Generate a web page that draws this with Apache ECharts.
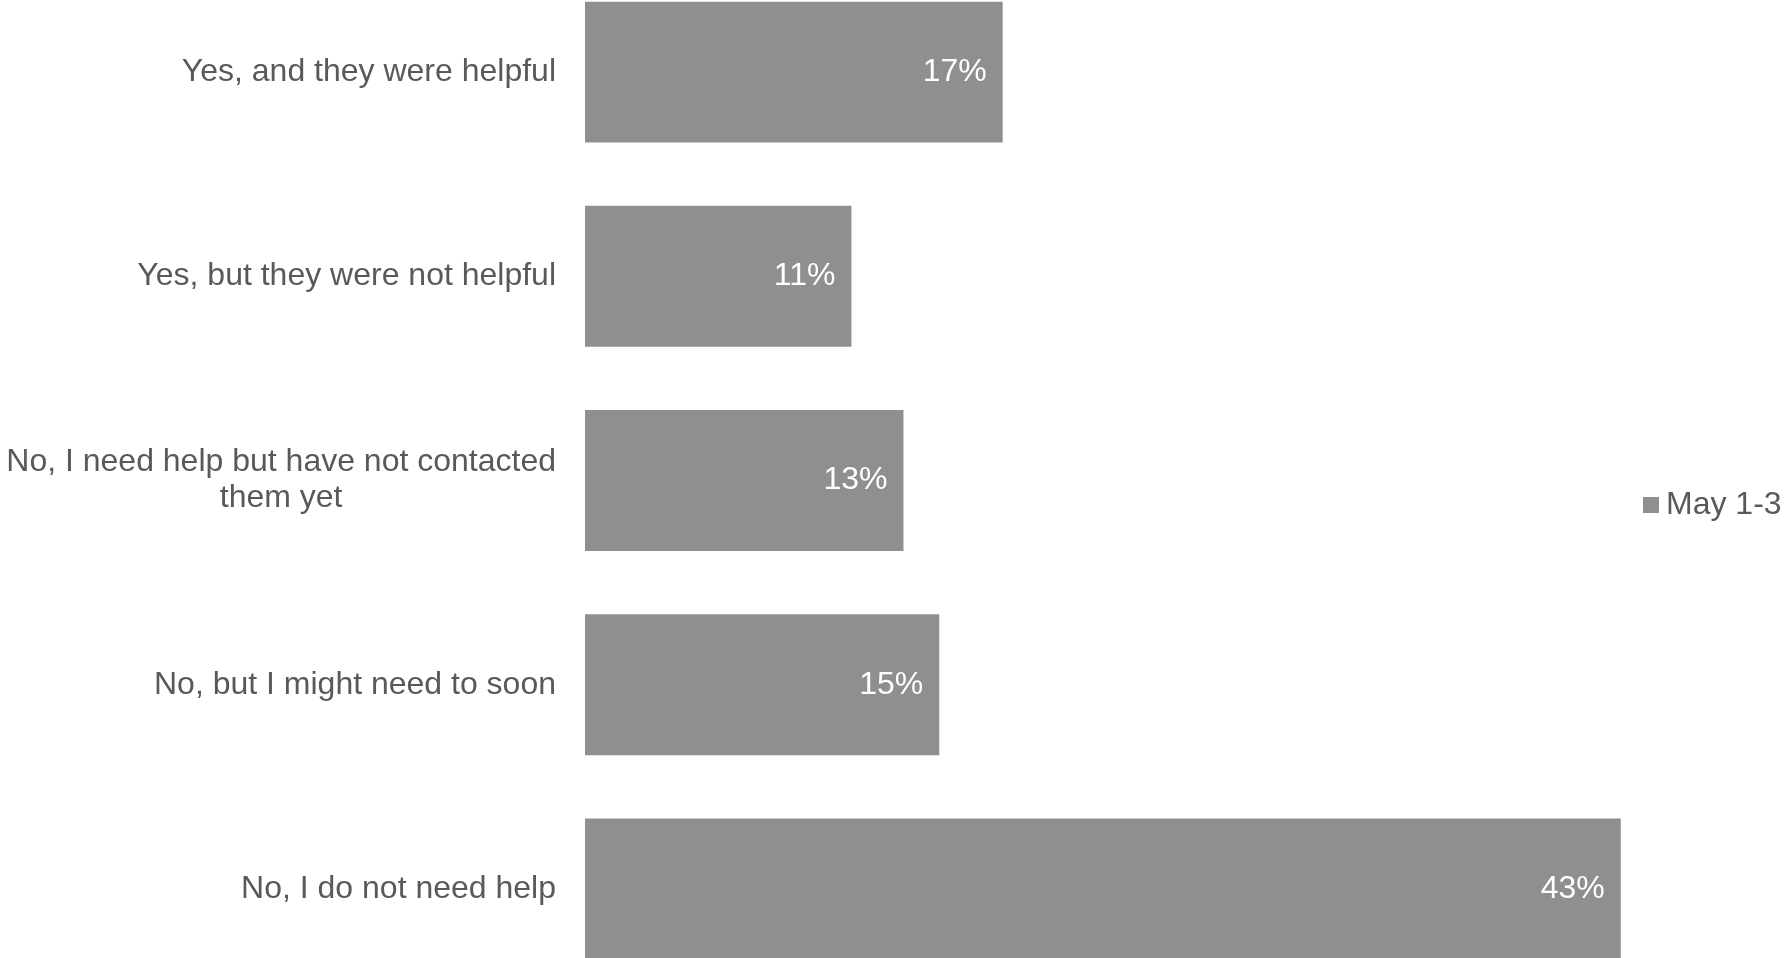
<!DOCTYPE html>
<html>
<head>
<meta charset="utf-8">
<script src="https://cdn.jsdelivr.net/npm/echarts@6/dist/echarts.min.js"></script>
<style>
html,body{margin:0;padding:0;background:#fff;}
#chart{width:1784px;height:958px;}
</style>
</head>
<body>
<div id="chart"></div>
<script>
const categories = [
  "Yes, and they were helpful",
  "Yes, but they were not helpful",
  "No, I need help but have not contacted\nthem yet",
  "No, but I might need to soon",
  "No, I do not need help"
];
const seriesName = "May 1-3";
const values = [17.26, 11.01, 13.16, 14.64, 42.8];

const chart = echarts.init(document.getElementById('chart'), null, {renderer: 'canvas'});
const font = "'Liberation Sans', Arial, sans-serif";
chart.setOption({
  animation: false,
  backgroundColor: '#ffffff',
  legend: {
    data: [seriesName],
    orient: 'vertical',
    left: 1643,
    top: 489,
    padding: 0,
    itemWidth: 16,
    itemHeight: 16,
    itemGap: 7,
    icon: 'rect',
    textStyle: {color: '#595959', fontSize: 32, fontFamily: font, padding: [0,0,0,2]}
  },
  grid: {left: 585, width: 1089, top: -30, height: 1021, containLabel: false, outerBoundsMode: 'none'},
  xAxis: {
    type: 'value', min: 0, max: 45,
    show: false
  },
  yAxis: {
    type: 'category',
    inverse: true,
    data: categories,
    axisLine: {show: false},
    axisTick: {show: false},
    axisLabel: {
      margin: 29,
      color: '#595959',
      fontSize: 32,
      fontFamily: font,
      lineHeight: 36,
      formatter: function (v) {
        return v.split('\n').map(s => '{c|' + s + '}').join('\n');
      },
      rich: {c: {align: 'center', color: '#595959', fontSize: 32, fontFamily: font, lineHeight: 36}}
    }
  },
  series: [{
    name: seriesName,
    type: 'bar',
    data: values,
    barCategoryGap: '31%',
    itemStyle: {color: '#8f8f8f'},
    label: {
      show: true,
      position: 'insideRight',
      distance: 16,
      color: '#ffffff',
      fontSize: 32,
      fontFamily: font,
      formatter: p => Math.round(p.value) + '%'
    }
  }]
});
</script>
</body>
</html>
